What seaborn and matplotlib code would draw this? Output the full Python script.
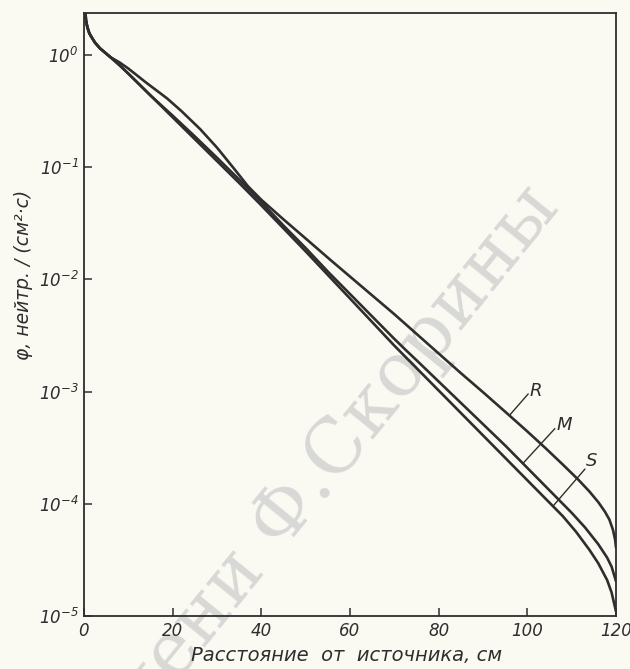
import numpy as np
import pandas as pd
import seaborn as sns
import matplotlib.pyplot as plt

# distance from the source, cm, and log10 of the flux
x_R = [0.3, 0.45, 0.75, 1.2, 1.7, 2.5, 3.6, 4.8, 6, 8, 10, 14, 18.7, 22, 26.2, 30, 34, 37, 40,
       45, 50, 55.7, 62.4, 70, 79, 85, 90, 95.6, 100, 104, 108, 111.5, 114, 116, 117.5, 118.5,
       119.3, 119.8, 120]
lg_R = [0.40, 0.31, 0.25, 0.195, 0.16, 0.11, 0.06, 0.02, -0.02, -0.065, -0.12, -0.245, -0.385, -0.50,
        -0.66, -0.825, -1.02, -1.17, -1.29, -1.465, -1.635, -1.83, -2.055, -2.31, -2.625, -2.835,
        -3.005, -3.20, -3.355, -3.50, -3.65, -3.785, -3.89, -3.985, -4.07, -4.14, -4.23, -4.32, -4.39]

x_M = [0.3, 0.45, 0.75, 1.2, 1.7, 2.5, 3.6, 4.8, 6, 8, 10, 15, 20, 25, 30, 35, 40, 45, 50, 55,
       60, 65, 70, 72.6, 75, 80, 85, 90, 95, 99, 103, 107, 110, 113, 116, 118, 119, 120]
lg_M = [0.40, 0.31, 0.25, 0.195, 0.16, 0.11, 0.06, 0.02, -0.02, -0.09, -0.165, -0.36, -0.54, -0.725,
        -0.915, -1.11, -1.31, -1.52, -1.72, -1.93, -2.13, -2.33, -2.53, -2.63, -2.72, -2.91, -3.10,
        -3.29, -3.48, -3.64, -3.80, -3.96, -4.08, -4.21, -4.36, -4.48, -4.56, -4.69]

x_S = [0.3, 0.45, 0.75, 1.2, 1.7, 2.5, 3.6, 4.8, 6, 8, 10, 15, 20, 25, 30, 35, 40, 45, 50, 55,
       60, 65, 70, 75, 80, 85, 90, 95, 100, 104, 108, 111, 114, 116, 118, 119, 120]
lg_S = [0.40, 0.31, 0.25, 0.195, 0.16, 0.11, 0.06, 0.02, -0.02, -0.09, -0.165, -0.36, -0.555, -0.75,
        -0.945, -1.14, -1.34, -1.545, -1.75, -1.96, -2.17, -2.38, -2.59, -2.79, -2.99, -3.19, -3.39,
        -3.59, -3.79, -3.95, -4.11, -4.25, -4.41, -4.53, -4.68, -4.79, -4.96]

curve_names = ['R', 'M', 'S']
# curve labels: point on the curve, end of the leader, label position
label_pts = {'R': ((96.0, -3.21), (100.2, -3.02), (101.8, -2.99)),
             'M': ((99.0, -3.64), (106.2, -3.33), (108.4, -3.30)),
             'S': ((105.8, -4.02), (113.0, -3.69), (114.6, -3.62))}

ytick_exp = [-5, -4, -3, -2, -1, 0]
ytick_labels = ['$10^{-5}$', '$10^{-4}$', '$10^{-3}$', '$10^{-2}$', '$10^{-1}$', '$10^{0}$']
xticks = [0, 20, 40, 60, 80, 100, 120]

paper = '#fbfaf2'
ink = '#2e2e2e'

sns.set_style('ticks')
plt.rcParams['font.family'] = ['DejaVu Sans']
plt.rcParams['font.style'] = 'italic'
plt.rcParams['mathtext.fontset'] = 'custom'
plt.rcParams['mathtext.rm'] = 'DejaVu Sans:italic'
plt.rcParams['mathtext.it'] = 'DejaVu Sans:italic'
plt.rcParams['mathtext.default'] = 'it'

frames = []
for name, xs, lg in zip(curve_names, [x_R, x_M, x_S], [lg_R, lg_M, lg_S]):
    frames.append(pd.DataFrame({'x': xs, 'phi': 10.0 ** np.array(lg), 'curve': name}))
df = pd.concat(frames, ignore_index=True)

fig = plt.figure(figsize=(6.3, 6.69), dpi=100, facecolor=paper)
ax = fig.add_axes([0.1333, 0.0792, 0.8445, 0.9014])
ax.set_facecolor(paper)

sns.lineplot(data=df, x='x', y='phi', units='curve', estimator=None, color=ink,
             lw=1.9, ax=ax, legend=False, sort=False)

ax.set_yscale('log')
ax.set_xlim(0, 120)
ax.set_ylim(1e-5, 10 ** 0.375)
ax.set_yticks([10.0 ** e for e in ytick_exp])
ax.set_yticklabels(ytick_labels)
ax.yaxis.set_minor_locator(plt.NullLocator())
ax.set_xticks(xticks)
ax.set_xticklabels([str(t) for t in xticks])

for side in ['left', 'bottom', 'top', 'right']:
    ax.spines[side].set_color(ink)
    ax.spines[side].set_linewidth(1.3)
ax.tick_params(direction='in', length=6, width=1.1, color=ink, labelcolor=ink,
               labelsize=12, pad=4)

ax.set_xlabel('Расстояние  от  источника, см', fontsize=14, color=ink)
ax.set_ylabel('φ, нейтр. / (см²·с)', fontsize=13.5, color=ink)
ax.xaxis.set_label_coords(0.494, -0.050)
ax.yaxis.set_label_coords(-0.095, 0.565)

for name in curve_names:
    (x0, y0), (x1, y1), (xt, yt) = label_pts[name]
    ax.plot([x0, x1], [10 ** y0, 10 ** y1], color=ink, lw=1.0)
    ax.text(xt, 10 ** yt, name, fontsize=13, color=ink, ha='center', va='center')

# watermark of the scanned page
ax.text(0.505, 0.29, 'имени Ф.Скорины', transform=fig.transFigure, fontsize=54,
        family='DejaVu Serif', style='normal', color='#d8d8d6', rotation=51,
        ha='center', va='center', rotation_mode='anchor', zorder=0.5, clip_on=False)

fig.savefig('out.png', dpi=100, facecolor=paper)
